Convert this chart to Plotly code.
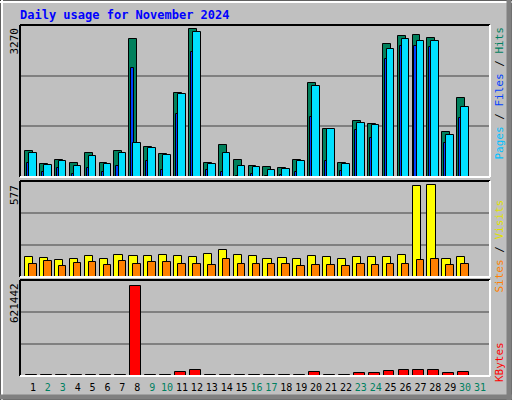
import plotly.graph_objects as go

days = list(range(1, 31))
weekend = [2, 3, 9, 10, 16, 17, 23, 24, 30, 31]

hits = [549, 289, 375, 310, 527, 310, 570, 2975, 636, 505, 1805, 3191, 310, 679, 375,
        245, 224, 202, 375, 2022, 1025, 310, 1198, 1133, 2866, 3039, 3061, 2996, 960, 1704]
files = [527, 267, 354, 245, 462, 289, 527, 722, 614, 484, 1784, 3126, 289, 527, 245,
         224, 159, 180, 354, 1957, 1025, 289, 1155, 1111, 2758, 2975, 2931, 2931, 895, 1516]
pages = [310, 116, 202, 72, 202, 116, 245, 2347, 354, 159, 1350, 2693, 159, 116, 30,
         72, 29, 51, 116, 1285, 354, 137, 1003, 830, 2542, 2824, 2824, 2802, 722, 1264]
visits = [122, 116, 104, 110, 128, 110, 134, 128, 128, 134, 128, 122, 140, 164, 134,
          128, 110, 116, 110, 128, 122, 110, 122, 122, 122, 134, 548, 554, 110, 122]
sites = [80, 98, 68, 86, 92, 74, 98, 80, 92, 92, 80, 80, 74, 110, 80,
         80, 80, 80, 68, 74, 74, 68, 80, 74, 80, 80, 104, 110, 74, 80]
kbytes = [5000, 5000, 5000, 5000, 5000, 5000, 5000, 581000, 5000, 5000, 23000, 36000, 5000, 5000, 5000,
          5000, 5000, 5000, 5000, 23000, 5000, 5000, 17000, 17000, 30000, 36000, 36000, 36000, 17000, 23000]
max_top, max_mid, max_bot = 3270, 577, 621442

W, H = 512, 400
def py(p):
    return 1 - p / H

fig = go.Figure()
line = dict(color="black", width=1)
fig.add_bar(x=days, y=hits, offset=-0.53, width=0.53, marker=dict(color="#00805c", line=line), xaxis="x", yaxis="y")
fig.add_bar(x=days, y=pages, offset=-0.4, width=0.16, marker=dict(color="#0040ff", line=line), xaxis="x", yaxis="y")
fig.add_bar(x=days, y=files, offset=-0.26, width=0.51, marker=dict(color="#00e0ff", line=line), xaxis="x", yaxis="y")
fig.add_bar(x=days, y=visits, offset=-0.53, width=0.55, marker=dict(color="#ffff00", line=line), xaxis="x2", yaxis="y2")
fig.add_bar(x=days, y=sites, offset=-0.26, width=0.51, marker=dict(color="#ff8000", line=line), xaxis="x2", yaxis="y2")
fig.add_bar(x=days, y=kbytes, offset=-0.47, width=0.73, marker=dict(color="#ff0000", line=line), xaxis="x3", yaxis="y3")

xr = [0.13, 31.67]
xdom = [20 / W, 490 / W]
ticktext = [f'<span style="color:{"#008060" if d in weekend else "black"}">{d}</span>' for d in range(1, 32)]
common_x = dict(range=xr, domain=xdom, showgrid=False, zeroline=False, showline=False, fixedrange=True)
fig.update_layout(
    xaxis=dict(**common_x, showticklabels=False, anchor="y"),
    xaxis2=dict(**common_x, showticklabels=False, anchor="y2"),
    xaxis3=dict(**common_x, anchor="y3", tickvals=list(range(1, 32)), ticktext=ticktext, ticks="",
                tickangle=0, ticklabelstandoff=4, tickfont=dict(family="DejaVu Sans Mono", size=10)),
)
def yax(m, top, bot, anchor):
    return dict(range=[0, m], domain=[py(bot), py(top)], anchor=anchor, tickvals=[m / 3, 2 * m / 3],
                showticklabels=False, gridcolor="#808080", gridwidth=1.5, zeroline=False, showline=False, ticks="")
fig.update_layout(yaxis=yax(max_top, 25, 177, "x"), yaxis2=yax(max_mid, 181, 277, "x2"), yaxis3=yax(max_bot, 280, 376, "x3"))

shapes = []
for top, bot in [(25, 177), (181, 277), (280, 376)]:
    x0, x1, y0, y1 = xdom[0], xdom[1], py(bot), py(top)
    shapes.append(dict(type="line", xref="paper", yref="paper", x0=x0, x1=x1, y0=y1, y1=y1, line=dict(color="black", width=2)))
    shapes.append(dict(type="line", xref="paper", yref="paper", x0=x0, x1=x0, y0=y0, y1=y1, line=dict(color="black", width=2)))
    shapes.append(dict(type="line", xref="paper", yref="paper", x0=x1, x1=x1, y0=y0, y1=y1, line=dict(color="white", width=2)))
    shapes.append(dict(type="line", xref="paper", yref="paper", x0=x0, x1=x1, y0=y0, y1=y0, line=dict(color="white", width=2)))
shapes += [
    dict(type="rect", xref="paper", yref="paper", x0=0, x1=1, y0=0, y1=1, line=dict(color="black", width=1)),
    dict(type="line", xref="paper", yref="paper", x0=2/W, x1=2/W, y0=0, y1=1, line=dict(color="white", width=2)),
    dict(type="line", xref="paper", yref="paper", x0=0, x1=1, y0=1-2/H, y1=1-2/H, line=dict(color="white", width=2)),
    dict(type="line", xref="paper", yref="paper", x0=1-3/W, x1=1-3/W, y0=0, y1=1, line=dict(color="#808080", width=5)),
    dict(type="line", xref="paper", yref="paper", x0=0, x1=1, y0=3/H, y1=3/H, line=dict(color="#808080", width=5)),
]

mono = "DejaVu Sans Mono"
ann = [
    dict(text="<b>Daily usage for November 2024</b>", x=18/W, y=py(15), xanchor="left", yanchor="middle",
         font=dict(family=mono, size=12, color="#0000ff")),
    dict(text=str(max_top), x=14/W, y=py(26), textangle=-90, xanchor="center", yanchor="top", font=dict(family=mono, size=11, color="black")),
    dict(text=str(max_mid), x=14/W, y=py(183), textangle=-90, xanchor="center", yanchor="top", font=dict(family=mono, size=11, color="black")),
    dict(text=str(max_bot), x=14/W, y=py(281), textangle=-90, xanchor="center", yanchor="top", font=dict(family=mono, size=11, color="black")),
    dict(text='<span style="color:#00c0ff">Pages</span> / <span style="color:#0040ff">Files</span> / <span style="color:#008060">Hits</span>',
         x=499/W, y=py(25), textangle=-90, xanchor="center", yanchor="top", font=dict(family=mono, size=11, color="black")),
    dict(text='<span style="color:#ff8000">Sites</span> / <span style="color:#e0e000">Visits</span>',
         x=499/W, y=py(198), textangle=-90, xanchor="center", yanchor="top", font=dict(family=mono, size=11, color="black")),
    dict(text='<span style="color:#ff0000">KBytes</span>',
         x=499/W, y=py(340), textangle=-90, xanchor="center", yanchor="top", font=dict(family=mono, size=11)),
]
for a in ann:
    a.update(xref="paper", yref="paper", showarrow=False)

fig.update_layout(width=W, height=H, margin=dict(l=0, r=0, t=0, b=0), barmode="overlay", showlegend=False,
                  paper_bgcolor="#c0c0c0", plot_bgcolor="#c0c0c0", shapes=shapes, annotations=ann, bargap=0)
fig.write_html("out.html", config={"displayModeBar": False})
with open("out.html", encoding="utf-8") as f:
    html = f.read()
html = html.replace("<head>", "<head><style>html,body{margin:0;padding:0;overflow:hidden}</style>", 1)
with open("out.html", "w", encoding="utf-8") as f:
    f.write(html)
